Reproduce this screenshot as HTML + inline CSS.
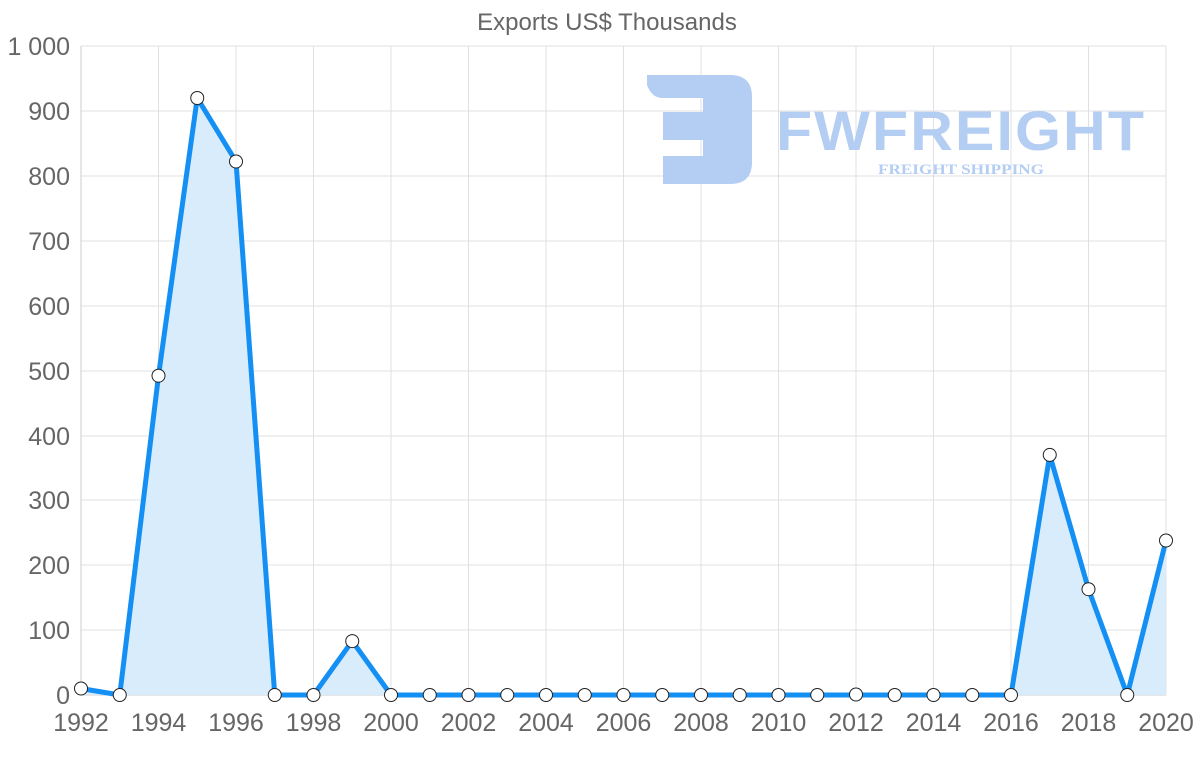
<!DOCTYPE html>
<html><head><meta charset="utf-8"><style>
html,body{margin:0;padding:0;background:#fff;}
svg{display:block;font-family:"Liberation Sans",sans-serif;}
</style></head><body>
<svg width="1200" height="763" viewBox="0 0 1200 763" xmlns="http://www.w3.org/2000/svg">
<text x="607" y="30" text-anchor="middle" font-size="24" fill="#666">Exports US$ Thousands</text>
<g stroke="#e0e0e0" stroke-width="1">
<line x1="81" y1="46" x2="1166" y2="46"/><line x1="81" y1="111" x2="1166" y2="111"/><line x1="81" y1="176" x2="1166" y2="176"/><line x1="81" y1="241" x2="1166" y2="241"/><line x1="81" y1="306" x2="1166" y2="306"/><line x1="81" y1="371" x2="1166" y2="371"/><line x1="81" y1="436" x2="1166" y2="436"/><line x1="81" y1="500" x2="1166" y2="500"/><line x1="81" y1="565" x2="1166" y2="565"/><line x1="81" y1="630" x2="1166" y2="630"/>
<line x1="158.5" y1="46" x2="158.5" y2="695"/><line x1="236" y1="46" x2="236" y2="695"/><line x1="313.5" y1="46" x2="313.5" y2="695"/><line x1="391" y1="46" x2="391" y2="695"/><line x1="468.5" y1="46" x2="468.5" y2="695"/><line x1="546" y1="46" x2="546" y2="695"/><line x1="623.5" y1="46" x2="623.5" y2="695"/><line x1="701" y1="46" x2="701" y2="695"/><line x1="778.5" y1="46" x2="778.5" y2="695"/><line x1="856" y1="46" x2="856" y2="695"/><line x1="933.5" y1="46" x2="933.5" y2="695"/><line x1="1011" y1="46" x2="1011" y2="695"/><line x1="1088.5" y1="46" x2="1088.5" y2="695"/><line x1="1166" y1="46" x2="1166" y2="695"/>
</g>
<line x1="81" y1="46" x2="81" y2="695" stroke="#ccc"/>
<line x1="81" y1="695" x2="1166" y2="695" stroke="#ccc"/>
<g fill="#b3cdf3">
<path d="M647 75 H730 Q752 75 752 97 V162 Q752 184 730 184 H663 V156 H703 V140 H663 V112 H703 V98 H662 Q652 98 647 85 Z"/>
<text x="776" y="150" font-size="56" font-weight="bold" letter-spacing="2" textLength="370" lengthAdjust="spacingAndGlyphs">FWFREIGHT</text>
<text x="961" y="174" font-size="15" font-weight="bold" font-family="Liberation Serif,serif" text-anchor="middle" textLength="166" lengthAdjust="spacingAndGlyphs">FREIGHT SHIPPING</text>
</g>
<g font-size="25" fill="#666" text-anchor="end">
<text x="70" y="55">1 000</text><text x="70" y="120">900</text><text x="70" y="185">800</text><text x="70" y="250">700</text><text x="70" y="315">600</text><text x="70" y="380">500</text><text x="70" y="445">400</text><text x="70" y="509">300</text><text x="70" y="574">200</text><text x="70" y="639">100</text><text x="70" y="704">0</text>
</g>
<g font-size="25" fill="#666" text-anchor="middle">
<text x="81" y="731">1992</text><text x="158.5" y="731">1994</text><text x="236" y="731">1996</text><text x="313.5" y="731">1998</text><text x="391" y="731">2000</text><text x="468.5" y="731">2002</text><text x="546" y="731">2004</text><text x="623.5" y="731">2006</text><text x="701" y="731">2008</text><text x="778.5" y="731">2010</text><text x="856" y="731">2012</text><text x="933.5" y="731">2014</text><text x="1011" y="731">2016</text><text x="1088.5" y="731">2018</text><text x="1166" y="731">2020</text>
</g>
<path d="M81 688.5 L119.75 695 L158.5 375.7 L197.25 98 L236 161.5 L274.75 695 L313.5 695 L352.25 641.1 L391 695 L1011 695 L1049.75 454.9 L1088.5 589.2 L1127.25 695 L1166 540.5 L1166 695 L81 695 Z" fill="#d9ecfc"/>
<polyline points="81,688.5 119.75,695 158.5,375.7 197.25,98 236,161.5 274.75,695 313.5,695 352.25,641.1 391,695 1011,695 1049.75,454.9 1088.5,589.2 1127.25,695 1166,540.5" fill="none" stroke="#148ff3" stroke-width="5" stroke-linejoin="round"/>
<g fill="#fff" stroke="#222" stroke-width="1">
<circle cx="81" cy="688.5" r="6.5"/><circle cx="119.75" cy="695" r="6.5"/><circle cx="158.5" cy="375.7" r="6.5"/><circle cx="197.25" cy="98" r="6.5"/><circle cx="236" cy="161.5" r="6.5"/><circle cx="274.75" cy="695" r="6.5"/><circle cx="313.5" cy="695" r="6.5"/><circle cx="352.25" cy="641.1" r="6.5"/><circle cx="391" cy="695" r="6.5"/><circle cx="429.75" cy="695" r="6.5"/><circle cx="468.5" cy="695" r="6.5"/><circle cx="507.25" cy="695" r="6.5"/><circle cx="546" cy="695" r="6.5"/><circle cx="584.75" cy="695" r="6.5"/><circle cx="623.5" cy="695" r="6.5"/><circle cx="662.25" cy="695" r="6.5"/><circle cx="701" cy="695" r="6.5"/><circle cx="739.75" cy="695" r="6.5"/><circle cx="778.5" cy="695" r="6.5"/><circle cx="817.25" cy="695" r="6.5"/><circle cx="856" cy="694.5" r="6.5"/><circle cx="894.75" cy="695" r="6.5"/><circle cx="933.5" cy="695" r="6.5"/><circle cx="972.25" cy="695" r="6.5"/><circle cx="1011" cy="695" r="6.5"/><circle cx="1049.75" cy="454.9" r="6.5"/><circle cx="1088.5" cy="589.2" r="6.5"/><circle cx="1127.25" cy="695" r="6.5"/><circle cx="1166" cy="540.5" r="6.5"/>
</g>
</svg>
</body></html>
